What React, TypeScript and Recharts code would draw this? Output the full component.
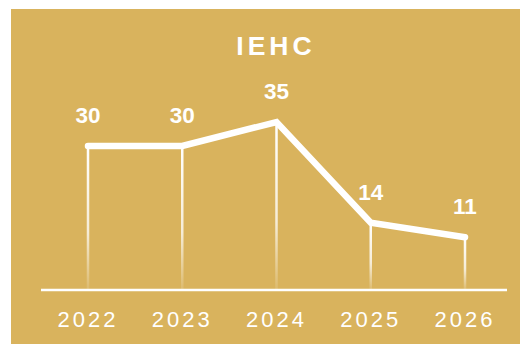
import React from "react";
import { LineChart, Line, XAxis, YAxis, LabelList } from "recharts";

const years = ["2022", "2023", "2024", "2025", "2026"];
const values = [30, 30, 35, 14, 11];
const title = "IEHC";

const data = years.map((y, i) => ({ year: y, value: values[i] }));

const GOLD = "#D9B35D";
const FONT = "'Liberation Sans', Arial, Helvetica, sans-serif";
const AXIS_Y = 281;

const DropLine = (props: any) => {
  const { cx, cy, index } = props;
  if (cx == null || cy == null) return <g key={index} />;
  return (
    <rect
      key={index}
      x={cx - 1.25}
      y={cy}
      width={2.5}
      height={Math.max(0, AXIS_Y - cy)}
      fill="url(#dropGrad)"
    />
  );
};

const Tick = (props: any) => {
  const { x, payload } = props;
  return (
    <text
      x={x}
      y={AXIS_Y + 37}
      textAnchor="middle"
      fill="#ffffff"
      fontSize={22}
      fontFamily={FONT}
      letterSpacing={3}
    >
      {payload.value}
    </text>
  );
};

const ValueLabel = (props: any) => {
  const { x, y, value } = props;
  return (
    <text
      x={x}
      y={y - 23}
      textAnchor="middle"
      fill="#ffffff"
      fontSize={22.5}
      fontWeight="bold"
      fontFamily={FONT}
    >
      {value}
    </text>
  );
};

export default function App() {
  return (
    <div
      style={{
        position: "relative",
        left: 3,
        top: 1,
        width: 517,
        height: 336,
        background: GOLD,
      }}
    >
      <LineChart
        width={517}
        height={336}
        data={data}
        margin={{ top: 89, right: 21, bottom: 15, left: 30 }}
      >
        <defs>
          <linearGradient id="dropGrad" x1="0" y1="0" x2="0" y2="1">
            <stop offset="0%" stopColor="#ffffff" stopOpacity={1} />
            <stop offset="60%" stopColor="#ffffff" stopOpacity={0.75} />
            <stop offset="100%" stopColor="#ffffff" stopOpacity={0.1} />
          </linearGradient>
        </defs>
        <text
          x={265}
          y={45.5}
          textAnchor="middle"
          fill="#ffffff"
          fontSize={26.5}
          fontWeight="bold"
          fontFamily={FONT}
          letterSpacing={4}
        >
          {title}
        </text>
        <XAxis
          dataKey="year"
          height={40}
          padding={{ left: 47, right: 42 }}
          axisLine={{ stroke: "#ffffff", strokeWidth: 2.5 }}
          tickLine={false}
          tickSize={0}
          tickMargin={0}
          tick={<Tick />}
          interval={0}
        />
        <YAxis hide domain={[0, 40]} />
        <Line
          type="linear"
          dataKey="value"
          stroke="#ffffff"
          strokeWidth={6.5}
          strokeLinecap="round"
          strokeLinejoin="miter"
          dot={<DropLine />}
          activeDot={false}
          isAnimationActive={false}
        >
          <LabelList dataKey="value" content={<ValueLabel />} />
        </Line>
      </LineChart>
    </div>
  );
}
